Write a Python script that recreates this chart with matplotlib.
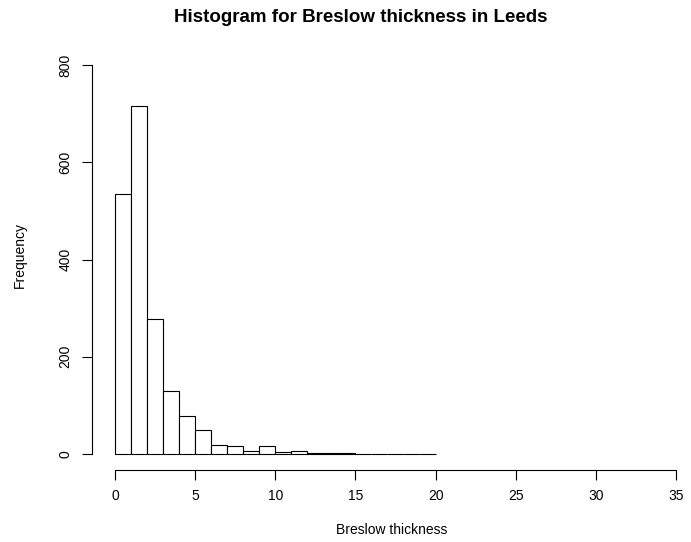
import numpy as np
import matplotlib
matplotlib.use("Agg")
import matplotlib.pyplot as plt

plt.rcParams['font.family'] = ['Liberation Sans', 'DejaVu Sans']

# histogram counts per 1-unit bin, 0..20
bin_edges = np.arange(0, 21, 1)
counts = [535, 716, 278, 129, 78, 49, 19, 16, 6, 16, 4, 6, 3, 2, 3, 0, 1, 1, 0, 1]
x_ticks = [0, 5, 10, 15, 20, 25, 30, 35]
y_ticks = [0, 200, 400, 600, 800]

fig = plt.figure(figsize=(6.91, 5.42), dpi=100)
ax = fig.add_axes([92 / 691, 72 / 542, 599 / 691, 430 / 542])

ax.bar(bin_edges[:-1], counts, width=1, align='edge',
       facecolor='white', edgecolor='black', linewidth=0.8)

# R-style axis placement
ax.set_xlim(-23 / 16.03, 35 + 15 / 16.03)
ax.set_ylim(-16 / 0.48625, 800 + 25 / 0.48625)
for s in ['top', 'right']:
    ax.spines[s].set_visible(False)
ax.spines['left'].set_bounds(0, 800)
ax.spines['bottom'].set_bounds(0, 35)
ax.spines['left'].set_linewidth(0.8)
ax.spines['bottom'].set_linewidth(0.8)

ax.set_xticks(x_ticks)
ax.set_yticks(y_ticks)
ax.set_yticklabels([str(v) for v in y_ticks], rotation=90, va='center')
ax.tick_params(axis='both', length=7, width=0.8, labelsize=10, pad=7)

ax.set_xlabel('Breslow thickness', fontsize=10, labelpad=14)
ax.set_ylabel('Frequency', fontsize=10, labelpad=23)
fig.text(361 / 691, 1 - 17 / 542, 'Histogram for Breslow thickness in Leeds',
         ha='center', va='center', fontsize=13.5, fontweight='bold')

fig.savefig('out.png', dpi=100)
